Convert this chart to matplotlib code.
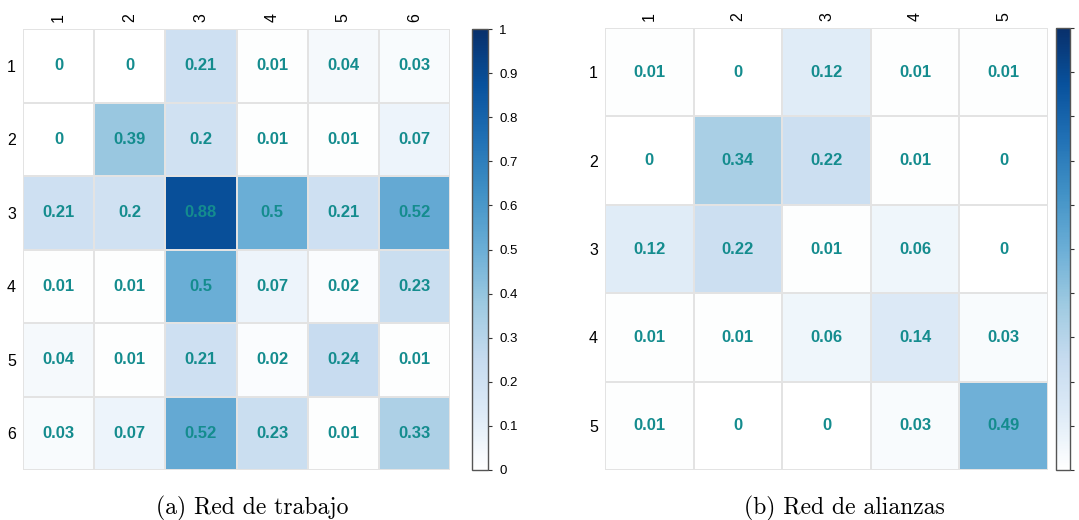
import numpy as np
import matplotlib
matplotlib.use("Agg")
import matplotlib.pyplot as plt
from matplotlib.colors import LinearSegmentedColormap

# Matrices
trabajoLabels = ["1", "2", "3", "4", "5", "6"]
trabajo = np.array([
    [0,    0,    0.21, 0.01, 0.04, 0.03],
    [0,    0.39, 0.2,  0.01, 0.01, 0.07],
    [0.21, 0.2,  0.88, 0.5,  0.21, 0.52],
    [0.01, 0.01, 0.5,  0.07, 0.02, 0.23],
    [0.04, 0.01, 0.21, 0.02, 0.24, 0.01],
    [0.03, 0.07, 0.52, 0.23, 0.01, 0.33],
])

alianzasLabels = ["1", "2", "3", "4", "5"]
alianzas = np.array([
    [0.01, 0,    0.12, 0.01, 0.01],
    [0,    0.34, 0.22, 0.01, 0],
    [0.12, 0.22, 0.01, 0.06, 0],
    [0.01, 0.01, 0.06, 0.14, 0.03],
    [0.01, 0,    0,    0.03, 0.49],
])

cbarTicks = [0, 0.1, 0.2, 0.3, 0.4, 0.5, 0.6, 0.7, 0.8, 0.9, 1]
captions = ["(a) Red de trabajo", "(b) Red de alianzas"]

W, H = 1079, 520
plt.rcParams["font.family"] = ["Liberation Sans", "DejaVu Sans"]

# white -> Blues, like corrplot's sequential palette
blues = LinearSegmentedColormap.from_list(
    "wblues", ["#FFFFFF", "#DEEBF7", "#C6DBEF", "#9ECAE1", "#6BAED6",
               "#4292C6", "#2171B5", "#08519C", "#08306B"])

fig = plt.figure(figsize=(W / 100, H / 100), dpi=100)


def px_axes(x0, y0, x1, y1):
    # pixel box (top-left origin) -> figure axes
    return fig.add_axes([x0 / W, 1 - y1 / H, (x1 - x0) / W, (y1 - y0) / H])


def heatmap(box, cbox, mat, labels):
    ax = px_axes(*box)
    n = len(labels)
    mesh = ax.pcolormesh(np.arange(n + 1), np.arange(n + 1), mat, cmap=blues,
                         vmin=0, vmax=1, edgecolors="#E3E3E3", linewidth=1.3)
    ax.set_xlim(0, n)
    ax.set_ylim(n, 0)
    for i in range(n):
        for j in range(n):
            ax.text(j + 0.5, i + 0.5, f"{mat[i, j]:g}", ha="center", va="center",
                    color="#148C8E", fontsize=12, fontweight="bold")
    ax.xaxis.tick_top()
    ax.set_xticks(np.arange(n) + 0.5)
    ax.set_xticklabels(labels, rotation=90, fontsize=11.5)
    ax.set_yticks(np.arange(n) + 0.5)
    ax.set_yticklabels(labels, fontsize=11.5)
    ax.tick_params(length=0, pad=5)
    for s in ax.spines.values():
        s.set_visible(False)

    cax = px_axes(*cbox)
    cb = fig.colorbar(mesh, cax=cax, ticks=cbarTicks)
    cb.ax.set_yticklabels([f"{t:g}" for t in cbarTicks], fontsize=9.5)
    cb.outline.set_edgecolor("#555555")
    cb.outline.set_linewidth(1)
    cb.ax.tick_params(length=3, width=0.8, color="#333333", pad=5)
    return ax


heatmap((23, 29, 450, 470), (472, 29, 488, 470), trabajo, trabajoLabels)
heatmap((605, 28, 1048, 470), (1056, 28, 1070, 470), alianzas, alianzasLabels)

fig.text(252 / W, 1 - 508 / H, captions[0], ha="center", va="center",
         family="cmr10", fontsize=17)
fig.text(844 / W, 1 - 508 / H, captions[1], ha="center", va="center",
         family="cmr10", fontsize=17)

fig.savefig("out.png", dpi=100)
